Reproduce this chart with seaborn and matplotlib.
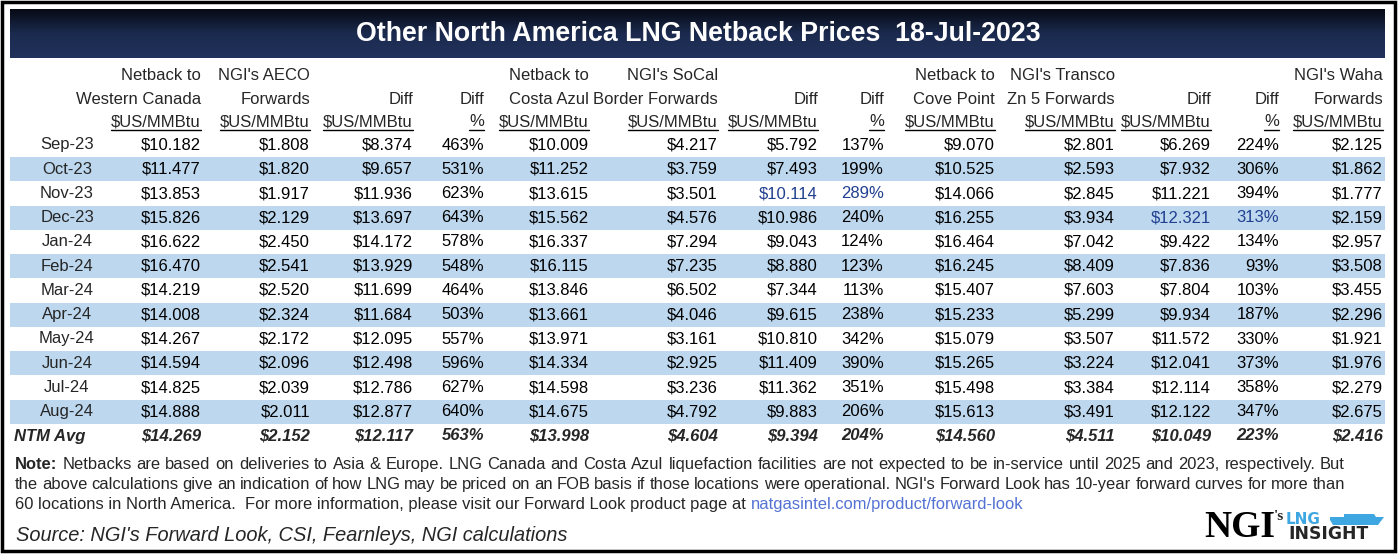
import numpy as np
import pandas as pd
import matplotlib
matplotlib.use('Agg')
import matplotlib.pyplot as plt
import seaborn as sns
from matplotlib.colors import ListedColormap, LinearSegmentedColormap
from matplotlib.patches import Rectangle, Polygon

W, H = 1398, 554

TITLE = 'Other North America LNG Netback Prices  18-Jul-2023'

months = ['Sep-23', 'Oct-23', 'Nov-23', 'Dec-23', 'Jan-24', 'Feb-24', 'Mar-24',
          'Apr-24', 'May-24', 'Jun-24', 'Jul-24', 'Aug-24']

header_top = ['Netback to', "NGI's AECO", '', '', 'Netback to', "NGI's SoCal", '', '',
              'Netback to', "NGI's Transco", '', '', "NGI's Waha"]
header_mid = ['Western Canada', 'Forwards', 'Diff', 'Diff', 'Costa Azul', 'Border Forwards',
              'Diff', 'Diff', 'Cove Point', 'Zn 5 Forwards', 'Diff', 'Diff', 'Forwards']
header_unit = ['$US/MMBtu', '$US/MMBtu', '$US/MMBtu', '%', '$US/MMBtu', '$US/MMBtu',
               '$US/MMBtu', '%', '$US/MMBtu', '$US/MMBtu', '$US/MMBtu', '%', '$US/MMBtu']

# $/MMBtu columns
netback_wcan = [10.182, 11.477, 13.853, 15.826, 16.622, 16.470, 14.219, 14.008, 14.267, 14.594, 14.825, 14.888]
aeco_fwd = [1.808, 1.820, 1.917, 2.129, 2.450, 2.541, 2.520, 2.324, 2.172, 2.096, 2.039, 2.011]
diff_aeco = [8.374, 9.657, 11.936, 13.697, 14.172, 13.929, 11.699, 11.684, 12.095, 12.498, 12.786, 12.877]
pct_aeco = [463, 531, 623, 643, 578, 548, 464, 503, 557, 596, 627, 640]
netback_costa = [10.009, 11.252, 13.615, 15.562, 16.337, 16.115, 13.846, 13.661, 13.971, 14.334, 14.598, 14.675]
socal_fwd = [4.217, 3.759, 3.501, 4.576, 7.294, 7.235, 6.502, 4.046, 3.161, 2.925, 3.236, 4.792]
diff_socal = [5.792, 7.493, 10.114, 10.986, 9.043, 8.880, 7.344, 9.615, 10.810, 11.409, 11.362, 9.883]
pct_socal = [137, 199, 289, 240, 124, 123, 113, 238, 342, 390, 351, 206]
netback_cove = [9.070, 10.525, 14.066, 16.255, 16.464, 16.245, 15.407, 15.233, 15.079, 15.265, 15.498, 15.613]
transco_fwd = [2.801, 2.593, 2.845, 3.934, 7.042, 8.409, 7.603, 5.299, 3.507, 3.224, 3.384, 3.491]
diff_transco = [6.269, 7.932, 11.221, 12.321, 9.422, 7.836, 7.804, 9.934, 11.572, 12.041, 12.114, 12.122]
pct_transco = [224, 306, 394, 313, 134, 93, 103, 187, 330, 373, 358, 347]
waha_fwd = [2.125, 1.862, 1.777, 2.159, 2.957, 3.508, 3.455, 2.296, 1.921, 1.976, 2.279, 2.675]

ntm_avg = [14.269, 2.152, 12.117, 563, 13.998, 4.604, 9.394, 204, 14.560, 4.511, 10.049, 223, 2.416]

# cells shown in blue: (row, column)
blue_cells = [(2, 6), (2, 7), (3, 10), (3, 11)]

note_line1 = "Netbacks are based on deliveries to Asia & Europe. LNG Canada and Costa Azul liquefaction facilities are not expected to be in-service until 2025 and 2023, respectively. But"
note_line2 = "the above calculations give an indication of how LNG may be priced on an FOB basis if those locations were operational. NGI's Forward Look has 10-year forward curves for more than"
note_line3 = "60 locations in North America.  For more information, please visit our Forward Look product page at "
note_link = 'natgasintel.com/product/forward-look'
source = "Source: NGI's Forward Look, CSI, Fearnleys, NGI calculations"

columns = [netback_wcan, aeco_fwd, diff_aeco, pct_aeco, netback_costa, socal_fwd, diff_socal,
           pct_socal, netback_cove, transco_fwd, diff_transco, pct_transco, waha_fwd]
is_pct = [False, False, False, True, False, False, False, True, False, False, False, True, False]

table = pd.DataFrame({i: c for i, c in enumerate(columns)}, index=months)

# layout (pixels)
col_right = [201, 310, 413, 484, 589, 718, 818, 884, 995, 1115, 1211, 1279, 1383]
month_x = 67
row0_y = 145
row_h = 24.25
head_y = [76, 99, 122]
FONT = 'Liberation Sans'
FS = 12
NOTE_FS = 11.9
BAND = '#BDD7EE'
BLUE_TXT = '#203F8F'
LOGO_BLUE = '#3EA6E0'


def fmt(v, pct):
    return f'{v:.0f}%' if pct else f'${v:.3f}'


sns.set_theme(style='white')
plt.rcParams['font.family'] = [FONT, 'DejaVu Sans']

fig = plt.figure(figsize=(W / 100, H / 100), dpi=100, facecolor='white')

# banded rows drawn as a one-column heatmap
n = len(months)
band_top = row0_y - row_h / 2
band_bot = row0_y + (n - 1) * row_h + row_h / 2
band_ax = fig.add_axes([10 / W, 1 - band_bot / H, 1375 / W, (band_bot - band_top) / H])
band = pd.DataFrame({'band': [i % 2 for i in range(n)]}, index=months)
sns.heatmap(band, ax=band_ax, cmap=ListedColormap(['white', BAND]), vmin=0, vmax=1,
            cbar=False, xticklabels=False, yticklabels=False)
band_ax.set_xlabel('')
band_ax.set_ylabel('')

ax = fig.add_axes([0, 0, 1, 1])
ax.patch.set_alpha(0)
ax.axis('off')

# title bar gradient
grad = np.linspace(0, 1, 200).reshape(-1, 1)
cm = LinearSegmentedColormap.from_list('bar', ['#060A14', '#1B2A4E', '#22325C'])
ax.imshow(grad, extent=[10, 1385, 58.5, 10], aspect='auto', cmap=cm, origin='upper')
ax.set_xlim(0, W)
ax.set_ylim(H, 0)
ax.text(698, 34, TITLE, color='white', fontsize=19.3, fontweight='bold', ha='center', va='center')

# outer frame
ax.add_patch(Rectangle((1.5, 1.5), 1393, 549.5, fill=False, ec='black', lw=2.5))

# headers
unit_texts = []
for j in range(len(columns)):
    for k, lines in enumerate([header_top, header_mid, header_unit]):
        if lines[j]:
            t = ax.text(col_right[j], head_y[k], lines[j], fontsize=FS, ha='right', va='center')
            if k == 2:
                unit_texts.append(t)

# body
for i, m in enumerate(months):
    y = row0_y + i * row_h
    ax.text(month_x, y, m, fontsize=FS, ha='center', va='center')
    for j in range(len(columns)):
        c = BLUE_TXT if (i, j) in blue_cells else 'black'
        ax.text(col_right[j], y, fmt(table.iloc[i, j], is_pct[j]), fontsize=FS,
                ha='right', va='center', color=c)

y = row0_y + n * row_h
ax.text(14, y, 'NTM Avg', fontsize=FS, ha='left', va='center', fontweight='bold', style='italic')
for j, v in enumerate(ntm_avg):
    ax.text(col_right[j], y, fmt(v, is_pct[j]), fontsize=FS, ha='right', va='center',
            fontweight='bold', style='italic')

fig.canvas.draw()
r = fig.canvas.get_renderer()
inv = ax.transData.inverted()
for t in unit_texts:
    bb = t.get_window_extent(r)
    (x0, _), (x1, _) = inv.transform([(bb.x0, bb.y0), (bb.x1, bb.y1)])
    ax.plot([x0, x1], [129.5, 129.5], color='black', lw=1)


def word_width(word, **kw):
    t = ax.text(0, 0, word, fontsize=NOTE_FS, **kw)
    bb = t.get_window_extent(r)
    t.remove()
    (a, _), (b, _) = inv.transform([(bb.x0, 0), (bb.x1, 0)])
    return b - a


def justify(items, x0, x1, y):
    widths = [word_width(w, **kw) for w, kw in items]
    gap = (x1 - x0 - sum(widths)) / (len(items) - 1)
    x = x0
    for (w, kw), wd in zip(items, widths):
        ax.text(x, y, w, fontsize=NOTE_FS, ha='left', va='baseline', **kw)
        x += wd + gap


line1 = [('Note:', {'fontweight': 'bold'})] + [(w, {}) for w in note_line1.split()]
justify(line1, 15, 1345, 469)
justify([(w, {}) for w in note_line2.split()], 15, 1345, 489)
t3 = ax.text(15, 509, note_line3, fontsize=NOTE_FS, ha='left', va='baseline')
bb = t3.get_window_extent(r)
xe = inv.transform([(bb.x1, 0)])[0][0]
ax.text(xe, 509, note_link, fontsize=NOTE_FS, ha='left', va='baseline', color='#5472D3')

ax.text(16, 541, source, fontsize=14.4, style='italic', ha='left', va='baseline')

# logo
ax.text(1204, 537, 'NGI', family='Liberation Serif', fontsize=27, fontweight='bold',
        ha='left', va='baseline', color='black')
ax.text(1274, 520, "'s", family='Liberation Serif', fontsize=11, fontweight='bold',
        ha='left', va='baseline')
ax.text(1286, 524.5, 'LNG', family='DejaVu Sans', fontsize=11, fontweight='bold',
        color=LOGO_BLUE, ha='left', va='baseline')
ax.add_patch(Polygon([[1330, 520], [1333, 525], [1378, 525], [1384, 517], [1376, 517],
                      [1374, 514], [1344, 514], [1344, 517], [1330, 517]],
                     closed=True, color=LOGO_BLUE, lw=0))
ax.text(1288, 539, 'INSIGHT', family='DejaVu Sans', fontsize=12.3, fontweight='bold',
        ha='left', va='baseline')

fig.savefig('out.png', dpi=100, facecolor='white')
